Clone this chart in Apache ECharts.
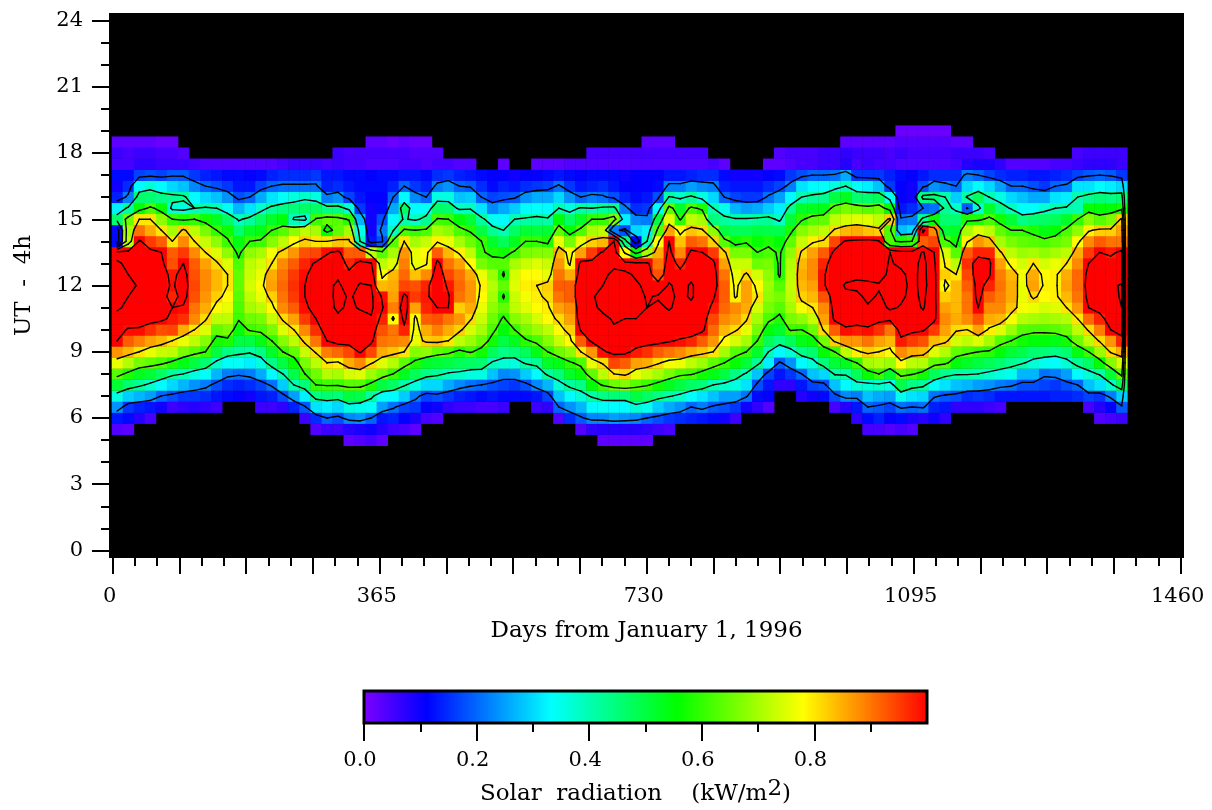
<!DOCTYPE html>
<html><head><meta charset="utf-8"><style>html,body{margin:0;padding:0;background:#fff}#c{width:1212px;height:810px}</style>
<script src="https://cdn.jsdelivr.net/npm/echarts@6/dist/echarts.min.js"></script></head><body><div id="c"></div><script>
const hours=[5,5.5,6,6.5,7,7.5,8,8.5,9,9.5,10,10.5,11,11.5,12,12.5,13,13.5,14,14.5,15,15.5,16,16.5,17,17.5,18,18.5,19];
// radiation per column (kW/m2 x 100), one value per entry of hours
const c00=[0,4,13,24,36,51,63,76,87,100,104,105,112,114,115,114,112,104,12,12,46,32,14,10,12,5,6,3,0];
const c01=[0,3,12,16,29,46,58,71,84,92,99,106,107,110,115,110,107,104,72,70,65,42,22,15,12,5,5,3,0];
const c02=[0,0,8,14,27,42,53,66,80,89,99,104,106,107,108,106,106,103,101,90,80,55,46,33,17,7,6,3,0];
const c03=[0,0,5,13,25,38,51,64,76,86,96,103,104,104,105,105,104,102,95,85,80,62,46,37,18,7,6,3,0];
const c04=[0,0,0,10,20,33,47,62,73,84,93,102,102,103,103,103,102,100,92,80,68,56,44,33,17,6,5,2,0];
const c05=[0,0,0,6,18,30,42,58,72,80,94,98,100,97,99,98,93,92,80,70,60,37,43,30,19,6,5,2,0];
const c06=[0,0,0,7,16,27,40,54,66,76,85,96,99,103,104,103,100,95,88,82,58,36,42,28,19,6,4,0,0];
const c07=[0,0,0,8,16,24,36,50,63,72,80,88,90,93,94,93,92,88,80,72,60,40,33,23,16,5,0,0,0];
const c08=[0,0,0,7,15,22,34,46,60,67,75,81,85,87,88,88,86,80,73,66,57,41,30,20,14,4,0,0,0];
const c09=[0,0,0,6,13,18,27,38,50,57,64,72,78,82,84,84,81,75,68,60,53,40,28,18,13,4,0,0,0];
const c10=[0,0,0,0,12,15,22,34,44,58,66,72,76,78,80,80,75,68,61,57,47,34,24,16,12,4,0,0,0];
const c11=[0,0,0,0,11,14,21,34,42,50,55,61,62,63,64,64,62,58,54,46,39,27,18,13,12,4,0,0,0];
const c12=[0,0,0,0,10,15,22,32,41,50,61,65,70,72,74,73,72,68,60,52,42,31,20,13,11,4,0,0,0];
const c13=[0,0,0,6,13,17,26,36,44,54,62,66,72,76,78,76,74,70,61,54,47,37,26,17,12,4,0,0,0];
const c14=[0,0,0,6,14,21,33,44,52,60,66,73,78,82,86,85,80,77,67,60,52,42,31,20,14,4,0,0,0];
const c15=[0,0,0,7,18,29,40,50,60,67,75,81,88,90,91,90,88,82,72,63,55,44,34,21,15,5,0,0,0];
const c16=[0,0,0,14,25,40,49,56,64,72,80,86,92,95,96,95,92,87,78,68,39,45,36,21,15,6,0,0,0];
const c17=[0,0,6,19,32,45,60,66,73,82,88,95,99,100,100,99,97,93,82,72,37,47,38,21,15,6,0,0,0];
const c18=[0,4,15,31,44,60,65,72,81,90,96,100,102,103,104,103,101,94,80,70,61,47,36,21,16,6,0,0,0];
const c19=[0,6,20,32,46,61,71,80,89,100,104,105,106,106,107,106,104,99,80,56,64,44,22,14,13,5,0,0,0];
const c20=[0,6,18,30,45,61,70,79,91,104,106,108,112,113,112,108,106,102,83,64,63,44,24,15,13,6,6,0,0];
const c21=[3,8,23,36,50,63,74,85,94,104,106,107,108,109,105,102,97,92,82,70,59,37,17,13,12,5,5,0,0];
const c22=[4,9,24,35,49,63,75,88,101,104,106,106,111,112,111,106,102,92,40,35,27,16,13,12,12,5,5,0,0];
const c23=[5,10,20,34,42,58,69,81,94,102,105,109,112,112,110,106,101,72,13,10,10,10,11,12,11,4,5,3,0];
const c24=[3,8,13,25,34,50,65,75,85,90,93,97,101,99,84,78,72,63,18,22,18,12,11,12,12,4,5,3,0];
const c25=[0,6,14,21,33,47,60,71,83,89,90,78,89,86,85,84,75,70,63,39,33,26,20,14,12,4,5,2,0];
const c26=[0,5,11,17,29,41,53,64,80,88,97,104,106,102,94,91,89,87,80,62,41,47,33,20,13,5,5,3,0];
const c27=[0,3,9,16,22,36,48,58,67,76,77,78,86,95,93,83,76,76,70,60,38,33,23,16,13,5,4,2,0];
const c28=[0,0,5,11,17,30,44,52,68,82,85,92,97,98,97,88,79,78,73,62,43,34,20,14,12,4,4,2,0];
const c29=[0,0,4,10,18,30,42,51,64,83,89,93,100,106,108,107,103,92,79,70,61,47,36,22,15,5,4,0,0];
const c30=[0,0,0,7,16,26,39,50,62,80,85,90,100,101,98,94,90,84,76,68,60,46,36,24,16,5,0,0,0];
const c31=[0,0,0,6,14,23,38,48,58,72,82,87,82,90,91,90,86,79,70,62,55,38,28,20,14,4,0,0,0];
const c32=[0,0,0,6,13,21,36,47,61,69,74,81,85,87,87,85,78,72,65,59,51,39,29,19,13,4,0,0,0];
const c33=[0,0,0,5,12,20,36,46,57,65,70,73,76,78,79,76,66,61,60,50,42,31,20,15,12,0,0,0,0];
const c34=[0,0,0,5,13,18,28,39,48,57,62,65,68,70,71,69,63,58,52,43,35,23,17,12,11,0,0,0,0];
const c35=[0,0,0,6,12,17,23,37,44,50,55,59,64,59,64,59,63,57,48,40,33,26,18,14,11,3,0,0,0];
const c36=[0,0,0,0,12,16,24,36,45,53,60,67,72,73,75,74,70,61,53,47,40,29,19,13,10,0,0,0,0];
const c37=[0,0,0,0,12,18,29,41,48,59,66,70,75,77,79,78,73,66,60,51,41,33,24,15,11,0,0,0,0];
const c38=[0,0,0,6,13,23,33,43,54,62,69,74,78,79,80,78,75,67,60,50,42,34,26,16,11,3,0,0,0];
const c39=[0,0,0,7,17,27,42,52,60,67,72,78,79,81,82,76,73,67,58,51,41,33,26,17,12,3,0,0,0];
const c40=[0,0,4,20,28,37,45,54,65,73,78,81,86,90,92,90,87,84,76,64,55,40,30,21,13,3,0,0,0];
const c41=[0,0,15,24,33,42,52,59,68,78,82,86,88,92,92,85,79,78,66,56,47,36,24,16,12,4,0,0,0];
const c42=[0,4,19,27,37,44,56,62,80,92,101,106,107,108,108,106,103,86,76,62,52,41,20,13,11,4,0,0,0];
const c43=[0,7,23,33,41,55,64,76,87,102,105,107,108,109,109,108,102,95,82,70,60,40,22,14,12,4,5,0,0];
const c44=[3,8,23,34,44,61,72,81,99,104,106,108,112,113,110,108,105,101,84,72,60,42,21,15,12,4,5,0,0];
const c45=[3,8,25,33,45,65,80,94,102,105,109,111,114,116,115,112,108,106,100,22,66,43,18,13,12,4,5,0,0];
const c46=[3,8,24,33,45,67,82,92,102,105,108,110,113,115,115,113,103,78,45,18,32,22,14,11,10,4,5,0,0];
const c47=[3,8,23,37,50,63,76,86,98,104,107,110,113,114,112,108,103,55,11,30,23,15,12,11,11,4,5,0,0];
const c48=[3,7,20,35,47,61,73,85,96,103,106,108,110,109,107,105,102,70,40,32,22,16,13,11,11,4,5,3,0];
const c49=[0,6,18,29,44,57,70,81,92,103,105,106,108,111,104,93,90,85,78,63,50,33,18,12,11,4,5,3,0];
const c50=[0,5,16,26,41,53,66,77,90,101,105,107,111,112,111,107,105,103,100,86,75,64,41,22,13,4,5,3,0];
const c51=[0,0,15,24,38,50,62,76,88,99,105,106,107,108,107,103,97,88,83,78,59,52,38,22,13,4,5,0,0];
const c52=[0,0,14,20,34,47,61,72,85,97,105,107,108,111,111,108,105,102,92,83,72,62,42,25,14,4,5,0,0];
const c53=[0,0,13,22,31,45,57,69,83,92,102,104,105,106,106,105,103,100,90,81,70,58,36,23,15,4,5,0,0];
const c54=[0,0,12,19,28,40,54,64,80,87,91,94,98,101,104,104,102,95,82,68,45,40,30,22,15,5,0,0,0];
const c55=[0,0,10,18,25,38,50,60,70,78,84,88,91,92,92,90,86,82,63,50,42,35,20,14,12,3,0,0,0];
const c56=[0,0,6,16,25,36,44,56,63,74,81,86,88,79,78,76,73,66,57,48,41,27,17,13,10,0,0,0,0];
const c57=[0,0,0,10,21,31,39,51,60,70,76,81,85,86,86,81,73,66,59,48,41,25,16,13,10,0,0,0,0];
const c58=[0,0,0,7,12,18,28,43,52,60,66,70,74,80,78,74,65,60,56,50,42,26,16,13,10,0,0,0,0];
const c59=[0,0,0,4,11,13,17,32,40,48,55,62,66,68,69,68,66,62,58,49,43,29,21,15,11,3,0,0,0];
const c60=[0,0,0,0,0,7,13,19,33,44,52,58,63,66,63,59,59,59,55,49,38,32,25,17,12,3,4,0,0];
const c61=[0,0,0,0,0,7,16,24,37,48,61,66,70,72,73,72,71,68,64,58,51,43,33,22,16,4,5,0,0];
const c62=[0,0,0,0,8,13,20,33,44,54,60,68,77,82,84,85,84,81,73,67,59,52,40,31,18,5,5,0,0];
const c63=[0,0,0,0,10,17,28,37,46,56,65,73,80,84,86,88,88,86,79,70,63,53,42,33,20,5,5,0,0];
const c64=[0,0,0,0,12,18,30,45,55,66,81,86,88,93,99,99,97,92,81,72,64,54,43,34,20,6,6,0,0];
const c65=[0,0,0,5,18,28,41,51,60,82,92,102,104,105,106,106,105,102,94,81,72,63,50,36,21,6,6,0,0];
const c66=[0,0,0,8,23,33,41,53,72,87,99,103,105,108,111,107,105,103,101,84,74,66,53,40,26,8,7,3,0];
const c67=[0,0,7,13,22,37,48,60,79,87,98,103,107,108,112,108,106,104,102,85,75,65,46,34,16,5,6,3,0];
const c68=[0,5,12,20,28,37,56,70,82,90,99,103,109,112,112,107,105,103,103,83,75,63,46,32,16,6,6,3,0];
const c69=[0,5,14,19,26,38,60,71,80,86,96,102,105,109,111,106,105,103,101,82,72,65,48,28,16,5,6,3,0];
const c70=[0,4,11,17,25,36,52,69,78,84,90,102,112,113,113,112,111,110,62,62,82,55,35,16,14,5,5,3,0];
const c71=[0,5,12,21,35,49,63,78,88,98,104,107,109,112,114,112,108,104,58,28,21,13,11,11,12,4,6,4,2];
const c72=[0,4,9,20,31,44,61,72,85,95,102,105,106,107,107,107,106,104,60,30,22,15,10,10,11,4,5,4,2];
const c73=[0,0,8,21,30,42,57,71,84,93,101,106,111,112,113,113,113,111,92,102,43,20,44,18,13,4,5,4,2];
const c74=[0,0,10,14,21,34,48,64,75,84,95,102,103,103,104,103,102,100,94,88,55,21,45,24,15,4,5,4,2];
const c75=[0,0,7,13,19,31,43,62,71,82,86,88,86,82,78,82,79,74,62,51,46,43,40,22,15,4,5,4,2];
const c76=[0,0,0,7,18,28,41,55,64,74,81,85,84,84,84,80,72,63,57,52,46,38,29,20,15,5,6,3,0];
const c77=[0,0,0,7,15,27,41,52,62,72,80,88,90,90,92,94,96,92,79,70,58,19,41,30,22,8,6,3,0];
const c78=[0,0,0,7,16,25,40,50,60,75,86,93,100,103,103,105,104,97,87,75,58,37,48,33,20,9,6,0,0];
const c79=[0,0,0,6,15,24,38,48,59,70,79,85,88,92,97,101,102,97,84,72,62,52,40,30,17,9,5,0,0];
const c80=[0,0,0,5,13,22,36,46,55,63,75,84,88,89,90,89,86,81,70,64,57,44,36,25,15,7,0,0,0];
const c81=[0,0,0,0,13,21,35,43,51,60,69,77,83,85,85,84,78,72,66,60,51,39,30,20,14,4,0,0,0];
const c82=[0,0,0,0,13,18,27,41,49,57,63,71,77,76,76,77,74,69,64,60,44,34,28,20,14,4,0,0,0];
const c83=[0,0,0,0,13,18,27,37,46,55,62,70,76,81,86,85,80,70,63,58,46,34,26,18,13,4,0,0,0];
const c84=[0,0,0,0,13,17,21,35,45,55,62,69,74,78,79,78,74,68,62,54,47,37,26,16,13,4,0,0,0];
const c85=[0,0,0,0,14,16,22,34,44,54,63,70,75,79,79,79,76,70,64,56,48,40,31,20,14,5,0,0,0];
const c86=[0,0,0,0,14,18,25,37,46,57,65,71,80,84,86,85,80,72,66,62,52,41,32,21,15,5,0,0,0];
const c87=[0,0,0,0,15,20,33,43,54,65,72,80,87,90,91,91,88,85,78,68,60,40,40,31,17,6,5,0,0];
const c88=[0,0,0,5,17,28,37,47,60,72,81,91,100,103,104,103,100,95,88,79,67,56,43,31,19,7,6,0,0];
const c89=[0,0,4,8,16,31,41,56,69,81,89,97,103,105,106,106,104,100,92,82,63,55,45,33,20,7,6,0,0];
const c90=[0,0,5,11,22,38,51,67,81,87,100,104,106,107,108,107,104,98,90,82,66,55,44,32,19,7,6,0,0];
const c91=[0,0,6,19,29,48,63,74,85,97,104,106,110,111,111,105,103,102,90,86,82,57,46,30,16,6,6,0,0];
const columns=[c00,c01,c02,c03,c04,c05,c06,c07,c08,c09,c10,c11,c12,c13,c14,c15,c16,c17,c18,c19,c20,c21,c22,c23,c24,c25,c26,c27,c28,c29,c30,c31,c32,c33,c34,c35,c36,c37,c38,c39,c40,c41,c42,c43,c44,c45,c46,c47,c48,c49,c50,c51,c52,c53,c54,c55,c56,c57,c58,c59,c60,c61,c62,c63,c64,c65,c66,c67,c68,c69,c70,c71,c72,c73,c74,c75,c76,c77,c78,c79,c80,c81,c82,c83,c84,c85,c86,c87,c88,c89,c90,c91];

const contourLevels=[20,40,60,80,100,110];
const xMajorTicks=[0,91.25,182.5,273.75,365,456.25,547.5,638.75,730,821.25,912.5,1003.75,1095,1186.25,1277.5,1368.75,1460];
const xLabels=[0,365,730,1095,1460];
const yMajorTicks=[0,3,6,9,12,15,18,21,24];
const yMinorTicks=[1,2,4,5,7,8,10,11,13,14,16,17,19,20,22,23];
const barMajorTicks=[0,0.2,0.4,0.6,0.8];
const barMinorTicks=[0.1,0.3,0.5,0.7,0.9];
const palette=[[0,[127,0,255]],[0.113,[0,0,255]],[0.333,[0,255,255]],[0.556,[0,255,0]],[0.778,[255,255,0]],[1,[255,0,0]]];
const firstDay=6.15, dayStep=15.09, hourStep=0.5;

const xMinorTicks=[];
for(let q=0;q<16;q++)for(let k=1;k<3;k++)xMinorTicks.push(q*91.25+k*91.25/3);
const dayOf=i=>firstDay+dayStep*i;
function colorOf(v){
  if(v>=1)return 'rgb(255,0,0)';
  for(let k=1;k<palette.length;k++){
    if(v<=palette[k][0]){
      const a=palette[k-1],b=palette[k],t=(v-a[0])/(b[0]-a[0]);
      return 'rgb('+a[1].map((c,j)=>Math.round(c+(b[1][j]-c)*t)).join(',')+')';
    }
  }
}
const cells=[];
columns.forEach((c,i)=>c.forEach((v,j)=>{if(v>0)cells.push([dayOf(i),hours[j],v/100]);}));

// marching squares on the cell centres; a zero column just past the last one closes the lines at the right edge
function contourSegments(){
  const segs=[];
  const nx=columns.length+1,ny=hours.length;
  const X=i=>i<columns.length?dayOf(i):dayOf(columns.length-1)+dayStep*0.42;
  const V=(i,j)=>i<columns.length?columns[i][j]:0;
  for(const L of contourLevels){
    const lv=L-0.001;
    for(let i=0;i<nx-1;i++)for(let j=0;j<ny-1;j++){
      const a=V(i,j),b=V(i+1,j),c=V(i+1,j+1),d=V(i,j+1);
      const cross=(p,q)=>(p<lv)!==(q<lv);
      const lerp=(p,q)=>(lv-p)/(q-p);
      const x0=X(i),x1=X(i+1),y0=hours[j],y1=hours[j+1];
      const e={};
      if(cross(a,b))e.s=[x0+(x1-x0)*lerp(a,b),y0];
      if(cross(b,c))e.r=[x1,y0+(y1-y0)*lerp(b,c)];
      if(cross(d,c))e.n=[x0+(x1-x0)*lerp(d,c),y1];
      if(cross(a,d))e.l=[x0,y0+(y1-y0)*lerp(a,d)];
      const keys=Object.keys(e);
      if(keys.length===2)segs.push([...e[keys[0]],...e[keys[1]]]);
      else if(keys.length===4){
        const m=(a+b+c+d)/4;
        if((a<lv)===(m<lv)){segs.push([...e.s,...e.l]);segs.push([...e.n,...e.r]);}
        else{segs.push([...e.s,...e.r]);segs.push([...e.n,...e.l]);}
      }
    }
  }
  return segs;
}

const fontFamily='"DejaVu Serif"';
const tickLine={color:'#000',width:2};
const chart=echarts.init(document.getElementById('c'),null,{renderer:'canvas'});
chart.setOption({
  animation:false,
  backgroundColor:'#fff',
  textStyle:{fontFamily,color:'#000'},
  grid:[
    {left:109,top:13,width:1075,height:545,show:true,backgroundColor:'#000',borderWidth:0,outerBoundsMode:'none'},
    {left:364,top:691,width:563,height:32,show:false,outerBoundsMode:'none'}
  ],
  xAxis:[
    {type:'value',gridIndex:0,position:'bottom',min:-5.06,max:1464.5,
     name:'Days from January 1, 1996',nameLocation:'middle',nameGap:62,nameMoveOverlap:false,
     nameTextStyle:{fontFamily,fontSize:23,color:'#000'},
     axisLine:{show:false,onZero:false},splitLine:{show:false},
     axisTick:{show:true,length:16,lineStyle:tickLine,customValues:xMajorTicks},
     axisLabel:{show:true,margin:28,fontFamily,fontSize:21,color:'#000',padding:[0,6,0,0],customValues:xLabels,formatter:v=>String(v),hideOverlap:false}},
    {type:'value',gridIndex:0,position:'bottom',min:-5.06,max:1464.5,
     axisLine:{show:false,onZero:false},splitLine:{show:false},
     axisTick:{show:true,length:8,lineStyle:tickLine,customValues:xMinorTicks},
     axisLabel:{show:false}},
    {type:'value',gridIndex:1,position:'bottom',min:0,max:1,
     name:'{t|Solar  radiation    (kW/m}{s|2}{t|)}',nameLocation:'middle',nameGap:55,nameMoveOverlap:false,
     nameTextStyle:{padding:[0,20,0,0],rich:{t:{fontFamily,fontSize:23,color:'#000',verticalAlign:'bottom',lineHeight:28},s:{fontFamily,fontSize:23,color:'#000',verticalAlign:'top',lineHeight:28,padding:[0,0,6,0]}}},
     axisLine:{show:false,onZero:false},splitLine:{show:false},
     axisTick:{show:true,length:18,lineStyle:tickLine,customValues:barMajorTicks},
     axisLabel:{show:true,margin:27,fontFamily,fontSize:21,color:'#000',padding:[0,8,0,0],customValues:barMajorTicks,formatter:v=>v.toFixed(1),hideOverlap:false}},
    {type:'value',gridIndex:1,position:'bottom',min:0,max:1,
     axisLine:{show:false,onZero:false},splitLine:{show:false},
     axisTick:{show:true,length:9,lineStyle:tickLine,customValues:barMinorTicks},
     axisLabel:{show:false}}
  ],
  yAxis:[
    {type:'value',gridIndex:0,position:'left',min:-0.34,max:24.34,
     name:'UT  -  4h',nameLocation:'middle',nameGap:73,nameRotate:90,nameMoveOverlap:false,
     nameTextStyle:{fontFamily,fontSize:23,color:'#000'},
     axisLine:{show:false,onZero:false},splitLine:{show:false},
     axisTick:{show:true,length:17,lineStyle:tickLine,customValues:yMajorTicks},
     axisLabel:{show:true,margin:26,fontFamily,fontSize:21,color:'#000',customValues:yMajorTicks,hideOverlap:false}},
    {type:'value',gridIndex:0,position:'left',min:-0.34,max:24.34,
     axisLine:{show:false,onZero:false},splitLine:{show:false},
     axisTick:{show:true,length:8,lineStyle:tickLine,customValues:yMinorTicks},
     axisLabel:{show:false}},
    {type:'value',gridIndex:1,min:0,max:1,show:false}
  ],
  series:[
    {type:'custom',name:'Solar radiation',xAxisIndex:0,yAxisIndex:0,silent:true,clip:true,
     data:cells,encode:{x:0,y:1},
     renderItem:(p,api)=>{
       const c=api.coord([api.value(0),api.value(1)]);
       const s=api.size([dayStep,hourStep]);
       return {type:'rect',shape:{x:c[0]-s[0]/2,y:c[1]-s[1]/2,width:s[0]+0.4,height:s[1]+0.4},style:{fill:colorOf(api.value(2))}};
     }},
    {type:'custom',name:'Contours',xAxisIndex:0,yAxisIndex:0,silent:true,clip:true,z:3,
     data:contourSegments(),encode:{x:[0,2],y:[1,3]},
     renderItem:(p,api)=>{
       const a=api.coord([api.value(0),api.value(1)]),b=api.coord([api.value(2),api.value(3)]);
       return {type:'line',shape:{x1:a[0],y1:a[1],x2:b[0],y2:b[1]},style:{stroke:'#000',lineWidth:1.4,lineCap:'round'}};
     }},
    {type:'custom',name:'Colour bar',xAxisIndex:2,yAxisIndex:2,silent:true,clip:false,
     data:[[0,0,1,1]],encode:{x:[0,2],y:[1,3]},
     renderItem:(p,api)=>{
       const a=api.coord([api.value(0),api.value(1)]),b=api.coord([api.value(2),api.value(3)]);
       return {type:'rect',shape:{x:a[0],y:b[1],width:b[0]-a[0],height:a[1]-b[1]},
         style:{stroke:'#000',lineWidth:3,
           fill:new echarts.graphic.LinearGradient(0,0,1,0,palette.map(s=>({offset:s[0],color:'rgb('+s[1].join(',')+')'})))}};
     }}
  ]
});
</script></body></html>
